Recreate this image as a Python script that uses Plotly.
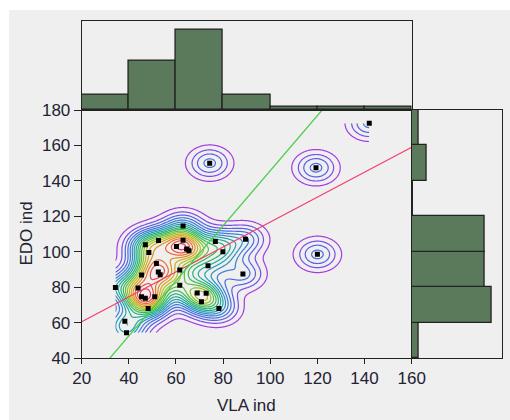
import numpy as np
import plotly.graph_objects as go

# ---------------- data ----------------
vla = [142.0, 74.3, 119.4, 120.0, 89.5, 88.4, 34.3, 38.3, 39.0,
       53.3, 52.5, 65.5, 64.5, 60.2, 52.6, 48.5, 51.7, 45.4, 61.6,
       61.6, 43.9, 45.4, 47.0, 51.0, 48.2, 69.0, 72.8, 70.8, 78.2,
       73.6, 79.9, 76.7, 63.0, 63.0, 47.0]
edo = [172.5, 150.0, 147.4, 98.5, 107.0, 87.4, 79.8, 60.7, 54.3,
       87.0, 88.5, 100.5, 101.5, 103.0, 106.4, 99.5, 93.4, 86.8, 89.7,
       81.0, 79.5, 74.6, 73.8, 74.6, 68.0, 76.7, 76.5, 71.8, 68.0,
       92.1, 100.0, 105.7, 114.5, 106.5, 104.0]

x_bin_edges = [20, 40, 60, 80, 100, 120, 140, 160]
top_counts = [5, 16, 26, 5, 1, 1, 1]
y_bin_edges = [40, 60, 80, 100, 120, 140, 160, 180]
right_counts = [1, 11, 10, 10, 0, 2, 1]

red_fit_x = [20, 160]
red_fit_y = [60.5, 159.0]
green_fit_x = [32, 122]
green_fit_y = [40, 180]

x_ticks = [20, 40, 60, 80, 100, 120, 140, 160]
y_ticks = [40, 60, 80, 100, 120, 140, 160, 180]

contour_scale = [[0.00, '#a33be0'], [0.07, '#7150e8'], [0.15, '#4a66e4'],
                 [0.25, '#3580d8'], [0.35, '#22a0b0'], [0.45, '#20b080'],
                 [0.55, '#3abc48'], [0.65, '#92c428'], [0.73, '#c8b81a'],
                 [0.82, '#e09020'], [0.91, '#e86035'], [1.00, '#e8305a']]

# ---------------- density contours (Gaussian KDE of the points, over data extent) ----------------
h = 6.0            # kernel bandwidth (data units)
step = 0.23        # contour spacing, in units of one kernel's peak
gx = np.linspace(min(vla), max(vla), 321)
gy = np.linspace(min(edo), max(edo), 321)
X, Y = np.meshgrid(gx, gy)
dens = np.zeros_like(X)
for px, py in zip(vla, edo):
    dens += np.exp(-((X - px) ** 2 + (Y - py) ** 2) / (2 * h * h))
n_lev = int(dens.max() / step)
top_level = n_lev * step

x_centers = [(a + b) / 2 for a, b in zip(x_bin_edges[:-1], x_bin_edges[1:])]
y_centers = [(a + b) / 2 for a, b in zip(y_bin_edges[:-1], y_bin_edges[1:])]

W, H = 510, 420
mx0, mx1 = 81.7 / W, 411.7 / W
my0, my1 = (H - 358) / H, (H - 110) / H
ty1 = (H - 20.7) / H
rx1 = 501.7 / W

fig = go.Figure()
fig.add_trace(go.Contour(
    x=gx, y=gy, z=dens, zmin=step, zmax=top_level,
    contours=dict(start=step, end=top_level, size=step, coloring='lines'),
    colorscale=contour_scale, line=dict(width=1.2), showscale=False,
    hoverinfo='skip', xaxis='x', yaxis='y'))
fig.add_trace(go.Scatter(x=red_fit_x, y=red_fit_y, mode='lines',
                         line=dict(color='#f0406a', width=1.2),
                         xaxis='x', yaxis='y', showlegend=False))
fig.add_trace(go.Scatter(x=green_fit_x, y=green_fit_y, mode='lines',
                         line=dict(color='#48cc48', width=1.2),
                         xaxis='x', yaxis='y', showlegend=False))
fig.add_trace(go.Scatter(x=vla, y=edo, mode='markers',
                         marker=dict(symbol='square', size=5, color='black'),
                         xaxis='x', yaxis='y', showlegend=False))
fig.add_trace(go.Bar(x=x_centers, y=top_counts, width=20,
                     marker=dict(color='#5b7a5b', line=dict(color='#222222', width=1.3)),
                     xaxis='x2', yaxis='y2', showlegend=False))
fig.add_trace(go.Bar(y=y_centers, x=right_counts, width=20, orientation='h',
                     marker=dict(color='#5b7a5b', line=dict(color='#222222', width=1.3)),
                     xaxis='x3', yaxis='y3', showlegend=False))

tickfont = dict(family='Arial, Liberation Sans, sans-serif', size=17, color='#222233')
frame = dict(showline=True, linecolor='#222222', linewidth=1, mirror=True,
             showgrid=False, zeroline=False, automargin=False)

fig.update_layout(
    width=W, height=H, autosize=False,
    margin=dict(l=0, r=0, t=0, b=0, pad=0, autoexpand=False),
    paper_bgcolor='white', plot_bgcolor='white', showlegend=False,
    bargap=0,
    xaxis=dict(domain=[mx0, mx1], range=[20, 160], tickvals=x_ticks,
               ticks='outside', ticklen=5, tickcolor='#222222',
               tickfont=tickfont, anchor='y', **frame),
    yaxis=dict(domain=[my0, my1], range=[40, 180], tickvals=y_ticks,
               ticks='outside', ticklen=7, tickcolor='#222222',
               tickfont=tickfont, anchor='x', **frame),
    xaxis2=dict(domain=[mx0, mx1], range=[20, 160], showticklabels=False,
                ticks='', anchor='y2', **frame),
    yaxis2=dict(domain=[my1, ty1], range=[0, 28.8], showticklabels=False,
                ticks='', anchor='x2', **frame),
    xaxis3=dict(domain=[mx1, rx1], range=[0, 12.3], showticklabels=False,
                ticks='', anchor='y3', **frame),
    yaxis3=dict(domain=[my0, my1], range=[40, 180], showticklabels=False,
                ticks='', anchor='x3', **frame),
    shapes=[dict(type='rect', xref='paper', yref='paper',
                 x0=9 / W, x1=1, y0=0, y1=(H - 10) / H,
                 fillcolor='#efefef', line=dict(width=0), layer='below')],
    annotations=[
        dict(text='VLA ind', xref='paper', yref='paper', x=246.7 / W,
             y=(H - 405) / H, showarrow=False, xanchor='center', yanchor='middle',
             font=tickfont),
        dict(text='EDO ind', xref='paper', yref='paper', x=25.5 / W,
             y=(H - 234) / H, showarrow=False, xanchor='center', yanchor='middle',
             textangle=-90, font=tickfont),
    ],
)

fig.write_html('out.html', config={'responsive': False})
